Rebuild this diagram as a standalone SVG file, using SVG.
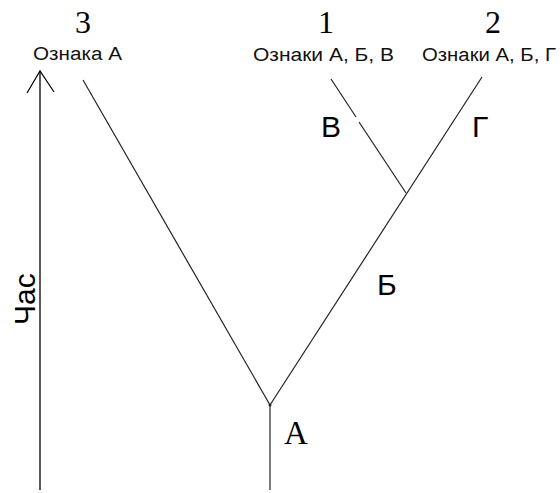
<svg xmlns="http://www.w3.org/2000/svg" width="560" height="493" viewBox="0 0 560 493">
<style>
.ln{stroke:#222;stroke-width:1.2;fill:none}
.num{font-family:"Liberation Serif",serif;font-size:32px;fill:#000;text-anchor:middle}
.sub{font-family:"Liberation Sans",Arial,sans-serif;font-size:18px;fill:#111}
.lbl{font-family:"Liberation Sans",Arial,sans-serif;font-size:30px;fill:#000}
</style>
<rect width="560" height="493" fill="#fff"/>
<g id="connectors">
<line class="ln" x1="83" y1="80" x2="270" y2="405"/>
<line class="ln" x1="270" y1="405" x2="482" y2="77"/>
<line class="ln" x1="270" y1="405" x2="270" y2="490"/>
<line class="ln" x1="331" y1="79" x2="356" y2="117"/>
<line class="ln" x1="359" y1="122" x2="406" y2="193"/>
<circle cx="270" cy="405" r="1.5" fill="#222"/>
</g>
<g id="axis">
<line x1="40" y1="71" x2="40" y2="490" stroke="#000" stroke-width="1.3"/>
<polyline points="27,93 40,71 54,92" fill="none" stroke="#000" stroke-width="1.2"/>
<text class="lbl" transform="translate(35,325) rotate(-90)">Час</text>
</g>
<g id="taxon3">
<text class="num" x="83" y="33">3</text>
<text class="sub" x="33" y="60" textLength="89" lengthAdjust="spacingAndGlyphs">Ознака А</text>
</g>
<g id="taxon1">
<text class="num" x="326" y="33">1</text>
<text class="sub" x="253" y="61" textLength="141" lengthAdjust="spacingAndGlyphs">Ознаки А, Б, В</text>
</g>
<g id="taxon2">
<text class="num" x="493" y="33">2</text>
<text class="sub" x="422" y="61" textLength="134" lengthAdjust="spacingAndGlyphs">Ознаки А, Б, Г</text>
</g>
<g id="labelV"><text class="lbl" x="321" y="137">В</text></g>
<g id="labelG"><text class="lbl" x="472" y="137">Г</text></g>
<g id="labelB"><text class="lbl" x="377" y="295">Б</text></g>
<g id="labelA"><text x="284" y="444" font-family="Liberation Serif,serif" font-size="33" fill="#000">A</text></g>
</svg>
